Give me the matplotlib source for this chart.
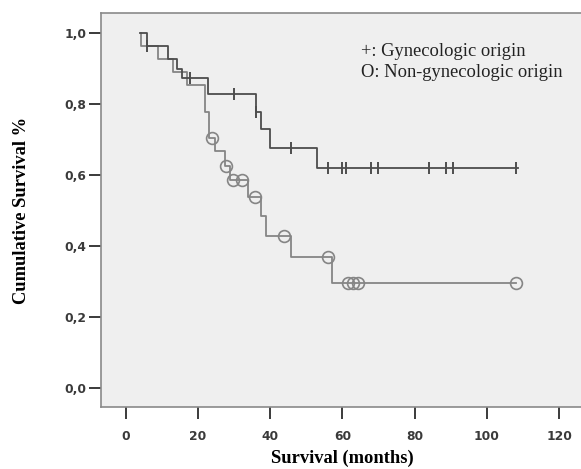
import matplotlib.pyplot as plt
import numpy as np

# Kaplan-Meier steps
gyn_times = [4.0, 5.9, 11.8, 14.1, 15.5, 22.9, 36.0, 37.6, 39.9, 53.0, 108.5]
gyn_surv = [1.0, 0.962, 0.925, 0.898, 0.871, 0.827, 0.777, 0.728, 0.676, 0.618, 0.618]
gyn_censored = [6.0, 17.8, 30.0, 36.2, 45.9, 55.9, 60.0, 60.9, 67.9, 69.9, 83.9, 88.8, 90.7, 108.0]

non_times = [4.4, 4.4, 9.0, 13.0, 16.9, 21.9, 23.1, 24.7, 27.6, 28.9, 33.9, 37.6, 39.0, 45.9, 57.0, 108.0]
non_surv = [1.0, 0.963, 0.926, 0.889, 0.852, 0.778, 0.704, 0.666, 0.625, 0.585, 0.537, 0.484, 0.428, 0.367, 0.294, 0.294]
non_censored = [23.8, 27.9, 29.8, 32.1, 35.8, 43.8, 56.1, 61.6, 63.0, 64.4, 108.0]

x_ticks = [0, 20, 40, 60, 80, 100, 120]
y_ticks = [0.0, 0.2, 0.4, 0.6, 0.8, 1.0]
y_ticklabels = ['0,0', '0,2', '0,4', '0,6', '0,8', '1,0']


def surv_at(times, surv, t):
    i = np.searchsorted(times, t, side='right') - 1
    return surv[i]


fig = plt.figure(figsize=(5.81, 4.69), dpi=100)
ax = fig.add_axes([101 / 581, 62 / 469, 482 / 581, 394 / 469])
ax.set_facecolor('#efefef')

dark = '#4d4d4d'
light = '#858585'

ax.step(gyn_times, gyn_surv, where='post', color=dark, lw=1.3, zorder=3)
ax.step(non_times, non_surv, where='post', color=light, lw=1.3, zorder=2)

gyn_cy = [surv_at(gyn_times, gyn_surv, t) for t in gyn_censored]
ax.plot(gyn_censored, gyn_cy, ls='none', marker='|', ms=8, mew=1.4, color=dark, zorder=4)

non_cy = [surv_at(non_times, non_surv, t) for t in non_censored]
ax.plot(non_censored, non_cy, ls='none', marker='o', ms=8.5, mew=1.2,
        mfc='none', mec=light, zorder=4)

ax.text(65.1, 0.948, '+: Gynecologic origin', family='Liberation Serif',
        fontsize=13.3, va='center', ha='left', color='#222222')
ax.text(65.1, 0.887, 'O: Non-gynecologic origin', family='Liberation Serif',
        fontsize=13.3, va='center', ha='left', color='#222222')

ax.set_xlim(-6.8, 126.6)
ax.set_ylim(-0.0544, 1.0555)
ax.set_xticks(x_ticks)
ax.set_xticklabels([str(v) for v in x_ticks])
ax.set_yticks(y_ticks)
ax.set_yticklabels(y_ticklabels)

for side in ['left', 'top', 'bottom']:
    ax.spines[side].set_color('#8a8a8a')
    ax.spines[side].set_linewidth(1.2)
ax.spines['right'].set_visible(False)

ax.tick_params(axis='both', direction='out', length=8.5, width=1.4,
               color='#3a3a3a', labelsize=8.8, labelcolor='#3a3a3a')
ax.tick_params(axis='x', pad=8)
ax.tick_params(axis='y', pad=2)
for lab in ax.get_xticklabels() + ax.get_yticklabels():
    lab.set_fontweight('bold')

ax.set_xlabel('Survival (months)', family='Liberation Serif', fontweight='bold',
              fontsize=13.3, labelpad=5)
ax.set_ylabel('Cumulative Survival %', family='Liberation Serif', fontweight='bold',
              fontsize=13.3, labelpad=25)

fig.savefig('out.png', dpi=100)
